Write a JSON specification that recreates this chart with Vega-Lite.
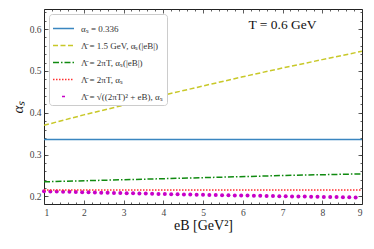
{
  "$schema": "https://vega.github.io/schema/vega-lite/v6.json",
  "width": 318,
  "height": 195,
  "autosize": {"type": "none"},
  "padding": {"left": 44, "top": 9, "right": 12, "bottom": 45},
  "background": "white",
  "config": {
    "view": {"stroke": "#222", "strokeWidth": 1},
    "font": "'Liberation Serif', 'Times New Roman', serif",
    "axis": {
      "domain": false, "grid": false,
      "labelFont": "'Liberation Serif', 'Times New Roman', serif", "labelFontSize": 9.5, "labelColor": "#444",
      "tickColor": "#333", "tickWidth": 0.8,
      "titleFont": "'Liberation Serif', 'Times New Roman', serif", "titleFontWeight": "normal", "titleColor": "#111"
    },
    "legend": {
      "labelFont": "'Liberation Serif', 'Times New Roman', serif", "labelFontSize": 9, "labelColor": "#333"
    }
  },
  "datasets": {
    "lines": [
      {"eB": 1, "alpha": 0.336, "series": "αₛ = 0.336"},
      {"eB": 9, "alpha": 0.336, "series": "αₛ = 0.336"},
      {"eB": 1, "alpha": 0.370, "series": "Λ̄ = 1.5 GeV, αₛ(|eB|)"},
      {"eB": 2, "alpha": 0.395, "series": "Λ̄ = 1.5 GeV, αₛ(|eB|)"},
      {"eB": 3, "alpha": 0.418, "series": "Λ̄ = 1.5 GeV, αₛ(|eB|)"},
      {"eB": 4, "alpha": 0.442, "series": "Λ̄ = 1.5 GeV, αₛ(|eB|)"},
      {"eB": 5, "alpha": 0.464, "series": "Λ̄ = 1.5 GeV, αₛ(|eB|)"},
      {"eB": 6, "alpha": 0.486, "series": "Λ̄ = 1.5 GeV, αₛ(|eB|)"},
      {"eB": 7, "alpha": 0.507, "series": "Λ̄ = 1.5 GeV, αₛ(|eB|)"},
      {"eB": 8, "alpha": 0.527, "series": "Λ̄ = 1.5 GeV, αₛ(|eB|)"},
      {"eB": 9, "alpha": 0.547, "series": "Λ̄ = 1.5 GeV, αₛ(|eB|)"},
      {"eB": 1, "alpha": 0.235, "series": "Λ̄ = 2πT, αₛ(|eB|)"},
      {"eB": 3, "alpha": 0.240, "series": "Λ̄ = 2πT, αₛ(|eB|)"},
      {"eB": 5, "alpha": 0.245, "series": "Λ̄ = 2πT, αₛ(|eB|)"},
      {"eB": 7, "alpha": 0.250, "series": "Λ̄ = 2πT, αₛ(|eB|)"},
      {"eB": 9, "alpha": 0.254, "series": "Λ̄ = 2πT, αₛ(|eB|)"},
      {"eB": 1, "alpha": 0.2155, "series": "Λ̄ = 2πT, αₛ"},
      {"eB": 9, "alpha": 0.2155, "series": "Λ̄ = 2πT, αₛ"}
    ],
    "dots": [
      {"eB": 1.00, "alpha": 0.2125}, {"eB": 1.16, "alpha": 0.2121}, {"eB": 1.32, "alpha": 0.2117},
      {"eB": 1.48, "alpha": 0.2113}, {"eB": 1.64, "alpha": 0.2110}, {"eB": 1.80, "alpha": 0.2106},
      {"eB": 1.96, "alpha": 0.2102}, {"eB": 2.12, "alpha": 0.2099}, {"eB": 2.28, "alpha": 0.2095},
      {"eB": 2.44, "alpha": 0.2091}, {"eB": 2.60, "alpha": 0.2088}, {"eB": 2.76, "alpha": 0.2084},
      {"eB": 2.92, "alpha": 0.2081}, {"eB": 3.08, "alpha": 0.2078}, {"eB": 3.24, "alpha": 0.2074},
      {"eB": 3.40, "alpha": 0.2071}, {"eB": 3.56, "alpha": 0.2068}, {"eB": 3.72, "alpha": 0.2065},
      {"eB": 3.88, "alpha": 0.2061}, {"eB": 4.04, "alpha": 0.2058}, {"eB": 4.20, "alpha": 0.2055},
      {"eB": 4.36, "alpha": 0.2052}, {"eB": 4.52, "alpha": 0.2049}, {"eB": 4.68, "alpha": 0.2046},
      {"eB": 4.84, "alpha": 0.2043}, {"eB": 5.00, "alpha": 0.2040}, {"eB": 5.16, "alpha": 0.2037},
      {"eB": 5.32, "alpha": 0.2034}, {"eB": 5.48, "alpha": 0.2032}, {"eB": 5.64, "alpha": 0.2029},
      {"eB": 5.80, "alpha": 0.2026}, {"eB": 5.96, "alpha": 0.2023}, {"eB": 6.12, "alpha": 0.2021},
      {"eB": 6.28, "alpha": 0.2018}, {"eB": 6.44, "alpha": 0.2015}, {"eB": 6.60, "alpha": 0.2013},
      {"eB": 6.76, "alpha": 0.2010}, {"eB": 6.92, "alpha": 0.2007}, {"eB": 7.08, "alpha": 0.2005},
      {"eB": 7.24, "alpha": 0.2002}, {"eB": 7.40, "alpha": 0.2000}, {"eB": 7.56, "alpha": 0.1997},
      {"eB": 7.72, "alpha": 0.1995}, {"eB": 7.88, "alpha": 0.1993}, {"eB": 8.04, "alpha": 0.1990},
      {"eB": 8.20, "alpha": 0.1988}, {"eB": 8.36, "alpha": 0.1985}, {"eB": 8.52, "alpha": 0.1983},
      {"eB": 8.68, "alpha": 0.1981}, {"eB": 8.84, "alpha": 0.1978}
    ]
  },
  "resolve": {"axis": {"x": "independent", "y": "independent"}},
  "layer": [
    {
      "data": {"name": "lines"},
      "transform": [{"filter": "datum.series !== 'Λ̄ = 2πT, αₛ'"}],
      "mark": {"type": "line", "clip": true},
      "encoding": {
        "x": {"field": "eB", "type": "quantitative",
              "scale": {"domain": [1, 9], "nice": false, "zero": false},
              "axis": {"orient": "bottom", "values": [1,2,3,4,5,6,7,8,9], "tickSize": -4, "labelPadding": 7,
                       "title": "eB [GeV²]", "titleFontSize": 14, "titlePadding": 2}},
        "y": {"field": "alpha", "type": "quantitative",
              "scale": {"domain": [0.182, 0.648], "nice": false, "zero": false},
              "axis": {"orient": "left", "values": [0.2,0.3,0.4,0.5,0.6], "format": ".1f", "tickSize": -4, "labelPadding": 7,
                       "title": "αₛ", "titleFontSize": 15, "titleFontStyle": "italic", "titlePadding": 4}},
        "color": {"field": "series", "type": "nominal",
                  "scale": {"domain": ["αₛ = 0.336", "Λ̄ = 1.5 GeV, αₛ(|eB|)", "Λ̄ = 2πT, αₛ(|eB|)", "Λ̄ = 2πT, αₛ", "Λ̄ = √((2πT)² + eB), αₛ"],
                            "range": ["#3a86c0", "#c8c828", "#108a10", "#ff3030", "#c800c8"]},
                  "legend": {"title": null, "orient": "top-left", "offset": 5, "symbolType": "stroke", "symbolSize": 441,
                             "fillColor": "white", "strokeColor": "#ccc", "cornerRadius": 3, "padding": 3,
                             "rowPadding": -11.5, "labelOffset": 6}},
        "strokeDash": {"field": "series", "type": "nominal",
                       "scale": {"domain": ["αₛ = 0.336", "Λ̄ = 1.5 GeV, αₛ(|eB|)", "Λ̄ = 2πT, αₛ(|eB|)", "Λ̄ = 2πT, αₛ", "Λ̄ = √((2πT)² + eB), αₛ"],
                                 "range": [[1, 0], [5, 2.5], [6, 2, 1.5, 2], [1.5, 1.5], [0.001, 9, 3, 200]]},
                       "legend": {"title": null}},
        "strokeWidth": {"field": "series", "type": "nominal",
                        "scale": {"domain": ["αₛ = 0.336", "Λ̄ = 1.5 GeV, αₛ(|eB|)", "Λ̄ = 2πT, αₛ(|eB|)", "Λ̄ = 2πT, αₛ", "Λ̄ = √((2πT)² + eB), αₛ"],
                                  "range": [1.5, 1.5, 1.5, 1.5, 3]},
                        "legend": {"title": null}}
      }
    },
    {
      "data": {"name": "dots"},
      "mark": {"type": "point", "filled": true, "size": 16, "color": "#c800c8", "opacity": 1},
      "encoding": {
        "x": {"field": "eB", "type": "quantitative",
              "axis": {"orient": "bottom", "values": [1.2,1.4,1.6,1.8,2.2,2.4,2.6,2.8,3.2,3.4,3.6,3.8,4.2,4.4,4.6,4.8,5.2,5.4,5.6,5.8,6.2,6.4,6.6,6.8,7.2,7.4,7.6,7.8,8.2,8.4,8.6,8.8],
                       "tickSize": -2, "labels": false, "title": null}},
        "y": {"field": "alpha", "type": "quantitative",
              "axis": {"orient": "left", "values": [0.2,0.22,0.24,0.26,0.28,0.3,0.32,0.34,0.36,0.38,0.4,0.42,0.44,0.46,0.48,0.5,0.52,0.54,0.56,0.58,0.6,0.62,0.64],
                       "tickSize": -2, "labels": false, "title": null}}
      }
    },
    {
      "data": {"name": "lines"},
      "transform": [{"filter": "datum.series === 'Λ̄ = 2πT, αₛ'"}],
      "mark": {"type": "line", "clip": true},
      "encoding": {
        "x": {"field": "eB", "type": "quantitative",
              "axis": {"orient": "top", "values": [1,2,3,4,5,6,7,8,9], "tickSize": -4, "labels": false, "title": null}},
        "y": {"field": "alpha", "type": "quantitative",
              "axis": {"orient": "right", "values": [0.2,0.3,0.4,0.5,0.6], "tickSize": -4, "labels": false, "title": null}},
        "color": {"field": "series", "type": "nominal"},
        "strokeDash": {"field": "series", "type": "nominal"},
        "strokeWidth": {"field": "series", "type": "nominal"}
      }
    },
    {
      "data": {"values": [{"label": "T = 0.6 GeV"}]},
      "mark": {"type": "text", "font": "'Liberation Serif', 'Times New Roman', serif", "fontSize": 13.5, "fontWeight": "normal", "color": "#111", "align": "center", "baseline": "middle"},
      "encoding": {
        "x": {"datum": 7.0, "type": "quantitative",
              "axis": {"orient": "top", "values": [1.2,1.4,1.6,1.8,2.2,2.4,2.6,2.8,3.2,3.4,3.6,3.8,4.2,4.4,4.6,4.8,5.2,5.4,5.6,5.8,6.2,6.4,6.6,6.8,7.2,7.4,7.6,7.8,8.2,8.4,8.6,8.8],
                       "tickSize": -2, "labels": false, "title": null}},
        "y": {"datum": 0.61, "type": "quantitative",
              "axis": {"orient": "right", "values": [0.2,0.22,0.24,0.26,0.28,0.3,0.32,0.34,0.36,0.38,0.4,0.42,0.44,0.46,0.48,0.5,0.52,0.54,0.56,0.58,0.6,0.62,0.64],
                       "tickSize": -2, "labels": false, "title": null}},
        "text": {"field": "label", "type": "nominal"}
      }
    }
  ]
}
